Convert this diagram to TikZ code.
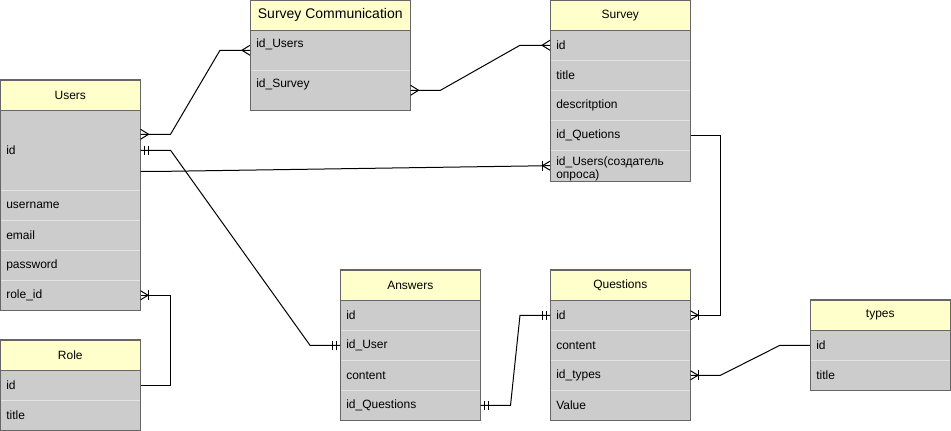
\documentclass[tikz,border=0pt]{standalone}
\usepackage{fontspec}
\setmainfont{Liberation Sans}
\usetikzlibrary{calc}

\definecolor{headyellow}{HTML}{FFFFCC}
\definecolor{rowgray}{HTML}{CCCCCC}
\definecolor{sepgray}{HTML}{E4E4E4}
\definecolor{bordergray}{HTML}{666666}

\tikzset{
  ehead/.style={draw=bordergray, fill=headyellow, anchor=north west, minimum width=105pt, minimum height=22.5pt, inner sep=0pt, font=\fontsize{9}{11}\selectfont},
  erow/.style={draw=sepgray, fill=rowgray, anchor=north west, minimum height=22.5pt, inner xsep=4.5pt, inner ysep=0pt, text width=96pt, align=left, font=\fontsize{9}{9.75}\selectfont},
  ebox/.style={draw=bordergray, line width=0.75pt},
  conn/.style={draw=black, line width=0.75pt},
  crowmany/.pic={\draw[conn] (0,-5) -- (8,0) -- (0,5);},
  crowonemany/.pic={\draw[conn] (0,-4.5) -- (7.5,0) -- (0,4.5); \draw[conn] (7.5,-5) -- (7.5,5);},
  mandone/.pic={\draw[conn] (4,-4.5) -- (4,4.5); \draw[conn] (8,-4.5) -- (8,4.5);}
}

\begin{document}
\begin{tikzpicture}[x=0.75pt,y=0.75pt,yscale=-1,xscale=1]
\useasboundingbox (0,0) rectangle (951,431);

% Users
\node[ehead] (usersHead) at (0,80) {Users};
\node[erow, minimum height=60pt] (usersId) at (0,110) {id};
\node[erow] (usersName) at (0,190) {username};
\node[erow] (usersMail) at (0,220) {email};
\node[erow] (usersPass) at (0,250) {password};
\node[erow] (usersRole) at (0,280) {role\_id};
\draw[ebox] (usersHead.north west) rectangle (usersRole.south east);
\draw[ebox] (usersHead.south west) -- (usersHead.south east);

% Role
\node[ehead] (roleHead) at (0,340) {Role};
\node[erow] (roleId) at (0,370) {id};
\node[erow] (roleTitle) at (0,400) {title};
\draw[ebox] (roleHead.north west) rectangle (roleTitle.south east);
\draw[ebox] (roleHead.south west) -- (roleHead.south east);

% Survey Communication
\node[ehead, minimum width=120pt, font=\fontsize{10.5}{12}\selectfont] (scHead) at (250,0) {Survey Communication};
\node[erow, minimum height=30pt, text width=111pt] (scUsers) at (250,30) {\raisebox{4.5pt}[\height][\depth]{id\_Users}};
\node[erow, minimum height=30pt, text width=111pt] (scSurvey) at (250,70) {\raisebox{4.5pt}[\height][\depth]{id\_Survey}};
\draw[ebox] (scHead.north west) rectangle (scSurvey.south east);
\draw[ebox] (scHead.south west) -- (scHead.south east);

% Survey
\node[ehead] (survHead) at (550,0) {Survey};
\node[erow] (survId) at (550,30) {id};
\node[erow] (survTitle) at (550,60) {title};
\node[erow] (survDesc) at (550,90) {descritption};
\node[erow] (survQuest) at (550,120) {id\_Quetions};
\node[erow] (survUsers) at (550,150) {\rule{0pt}{11.5pt}id\_Users(создатель\\опроса)};
\draw[ebox] (survHead.north west) rectangle (survUsers.south east);
\draw[ebox] (survHead.south west) -- (survHead.south east);

% Answers
\node[ehead] (ansHead) at (340,270) {Answers};
\node[erow] (ansId) at (340,300) {id};
\node[erow] (ansUser) at (340,330) {id\_User};
\node[erow] (ansContent) at (340,360) {content};
\node[erow] (ansQuest) at (340,390) {id\_Questions};
\draw[ebox] (ansHead.north west) rectangle (ansQuest.south east);
\draw[ebox] (ansHead.south west) -- (ansHead.south east);

% Questions
\node[ehead] (qHead) at (550,270) {Questions};
\node[erow] (qId) at (550,300) {id};
\node[erow] (qContent) at (550,330) {content};
\node[erow] (qTypes) at (550,360) {id\_types};
\node[erow] (qValue) at (550,390) {Value};
\draw[ebox] (qHead.north west) rectangle (qValue.south east);
\draw[ebox] (qHead.south west) -- (qHead.south east);

% types
\node[ehead] (typHead) at (810,300) {types};
\node[erow] (typId) at (810,330) {id};
\node[erow] (typTitle) at (810,360) {title};
\draw[ebox] (typHead.north west) rectangle (typTitle.south east);
\draw[ebox] (typHead.south west) -- (typHead.south east);

%Straight Lines: Users -- Survey Communication
\coordinate (usersTop) at ($(usersId.east)+(0,-16)$);
\draw[conn] (usersTop) -- ++(30,0) -- ($(scUsers.west)+(-30,0)$) -- (scUsers.west);
\pic at (usersTop) {crowmany};
\pic[rotate=180] at (scUsers.west) {crowmany};
%Straight Lines: Survey Communication -- Survey
\draw[conn] (scSurvey.east) -- ++(30,0) -- ($(survId.west)+(-30,0)$) -- (survId.west);
\pic at (scSurvey.east) {crowmany};
\pic[rotate=180] at (survId.west) {crowmany};
%Straight Lines: Users -- Answers
\draw[conn] (usersId.east) -- ++(30,0) -- ($(ansUser.west)+(-30,0)$) -- (ansUser.west);
\pic at (usersId.east) {mandone};
\pic[rotate=180] at (ansUser.west) {mandone};
%Straight Lines: Users -- Survey
\coordinate (usersLow) at ($(usersId.east)+(0,21)$);
\draw[conn] (usersLow) -- ++(30,0) -- (survUsers.west);
\pic[rotate=180] at (survUsers.west) {crowonemany};
%Straight Lines: Survey -- Questions
\draw[conn] (survQuest.east) -- ++(30,0) -- ($(qId.east)+(30,0)$) -- (qId.east);
\pic at (qId.east) {crowonemany};
%Straight Lines: Questions -- types
\draw[conn] (qTypes.east) -- ++(30,0) -- ($(typId.west)+(-30,0)$) -- (typId.west);
\pic at (qTypes.east) {crowonemany};
%Straight Lines: Role -- Users
\draw[conn] (roleId.east) -- ++(30,0) -- ($(usersRole.east)+(30,0)$) -- (usersRole.east);
\pic at (usersRole.east) {crowonemany};
%Straight Lines: Answers -- Questions
\draw[conn] (ansQuest.east) -- ++(30,0) -- ($(qId.west)+(-30,0)$) -- (qId.west);
\pic at (ansQuest.east) {mandone};
\pic[rotate=180] at (qId.west) {mandone};
\end{tikzpicture}
\end{document}
